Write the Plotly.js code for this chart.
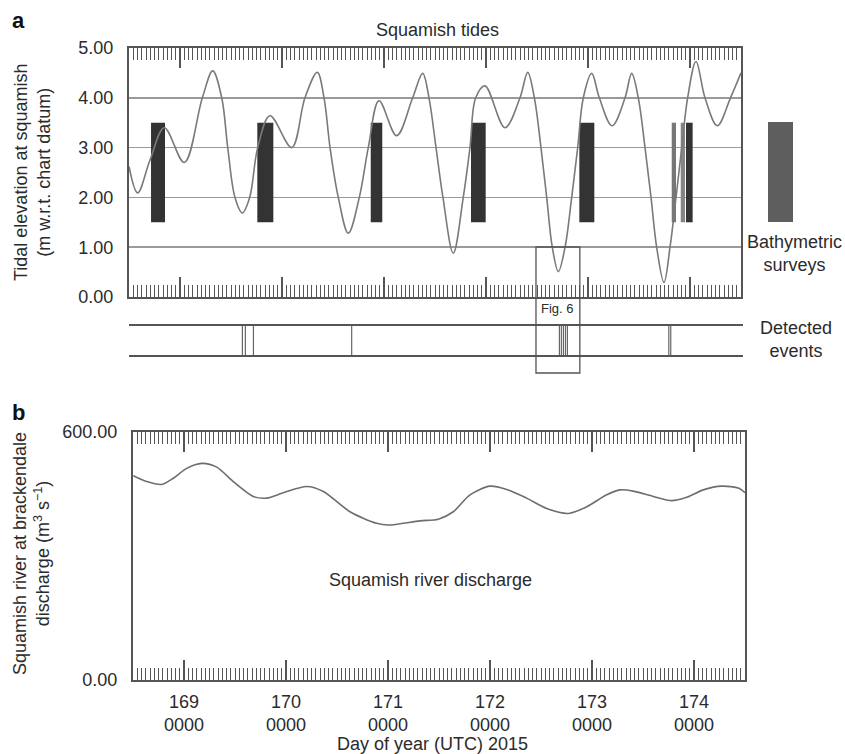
<!DOCTYPE html>
<html>
<head>
<meta charset="utf-8">
<script src="https://cdn.plot.ly/plotly-3.0.1.min.js"></script>
<style>html,body{margin:0;padding:0;background:#fff;}#chart{width:845px;height:754px;}</style>
</head>
<body>
<div id="chart"></div>
<script>
// ---- Data ----
const tideDay = [168.5, 168.585, 168.706, 168.846, 169.042, 169.219, 169.321, 169.409, 169.468, 169.539, 169.611, 169.683, 169.762, 169.882, 170.095, 170.225, 170.346, 170.412, 170.471, 170.552, 170.65, 170.758, 170.846, 170.951, 171.124, 171.281, 171.379, 171.441, 171.51, 171.578, 171.679, 171.777, 171.843, 171.899, 171.99, 172.186, 172.333, 172.409, 172.474, 172.539, 172.595, 172.65, 172.709, 172.775, 172.84, 172.899, 172.954, 173.036, 173.111, 173.236, 173.363, 173.428, 173.493, 173.559, 173.618, 173.673, 173.745, 173.804, 173.863, 173.919, 173.977, 174.059, 174.147, 174.268, 174.397, 174.5];
const tideLevel = [2.62, 2.09, 2.75, 3.40, 2.70, 4.00, 4.54, 4.00, 3.00, 2.00, 1.69, 2.00, 3.00, 3.64, 3.00, 4.00, 4.51, 4.00, 3.00, 2.00, 1.28, 2.00, 3.00, 3.94, 3.24, 4.00, 4.49, 4.00, 3.00, 2.00, 0.88, 2.00, 3.00, 4.00, 4.24, 3.40, 4.00, 4.51, 4.00, 3.00, 2.00, 1.00, 0.51, 1.00, 2.00, 3.00, 4.00, 4.49, 4.00, 3.44, 4.00, 4.49, 4.00, 3.00, 2.00, 1.00, 0.29, 1.00, 2.00, 3.00, 4.00, 4.73, 4.00, 3.44, 4.00, 4.50];

const dischargeDay = [168.503, 168.634, 168.781, 168.895, 169.026, 169.174, 169.321, 169.483, 169.679, 169.811, 169.974, 170.203, 170.366, 170.627, 170.889, 171.003, 171.314, 171.493, 171.64, 171.804, 172.0, 172.164, 172.36, 172.556, 172.768, 172.948, 173.144, 173.275, 173.405, 173.601, 173.781, 173.929, 174.091, 174.272, 174.441, 174.5];
const dischargeValue = [494, 480, 473, 488, 512, 524, 515, 480, 444, 440, 453, 468, 456, 407, 379, 375, 385, 389, 407, 448, 469, 461, 440, 415, 403, 419, 448, 460, 457, 444, 434, 442, 460, 469, 464, 453];

const surveyStart = [168.716, 169.758, 170.870, 171.853, 172.915, 173.821, 173.909, 173.961];
const surveyEnd   = [168.853, 169.915, 170.983, 171.997, 173.062, 173.863, 173.951, 174.026];
const surveyLow  = [1.5, 1.5, 1.5, 1.5, 1.5, 1.5, 1.5, 1.5];
const surveyHigh = [3.5, 3.5, 3.5, 3.5, 3.5, 3.5, 3.5, 3.5];
const surveyColor = ['#333333', '#333333', '#333333', '#333333', '#333333', '#777777', '#858585', '#333333'];

const eventDays = [169.608, 169.637, 169.716, 170.676, 172.706, 172.725, 172.745, 172.765, 172.784, 173.775, 173.794];

const dayTicks = [169, 170, 171, 172, 173, 174];
const dayTickLabels = ['169<br>0000', '170<br>0000', '171<br>0000', '172<br>0000', '173<br>0000', '174<br>0000'];
const tideTicks = [0, 1, 2, 3, 4, 5];
const tideTickLabels = ['0.00', '1.00', '2.00', '3.00', '4.00', '5.00'];
const dischargeTicks = [0, 600];
const dischargeTickLabels = ['0.00', '600.00'];
const fig6Days = [172.49, 172.92];

// ---- Build ----
const W = 845, H = 754;
const px = v => v / W;
const py = v => 1 - v / H;
const FONT = 'Liberation Sans, Arial, Helvetica, sans-serif';
const TXT = '#2b2b2b';
const AX = '#555555';

const evX = [], evY = [];
eventDays.forEach(d => { evX.push(d, d, null); evY.push(0, 1, null); });

const traces = [
  {
    type: 'bar', xaxis: 'x', yaxis: 'y',
    x: surveyStart.map((s, i) => (s + surveyEnd[i]) / 2),
    width: surveyStart.map((s, i) => surveyEnd[i] - s),
    base: surveyLow,
    y: surveyHigh.map((h, i) => h - surveyLow[i]),
    marker: { color: surveyColor, line: { width: 0 } },
    hoverinfo: 'skip'
  },
  {
    type: 'scatter', mode: 'lines', xaxis: 'x', yaxis: 'y',
    x: tideDay, y: tideLevel,
    line: { color: '#7a7a7a', width: 1.6, shape: 'spline', smoothing: 1 },
    hoverinfo: 'skip'
  },
  {
    type: 'scatter', mode: 'lines', xaxis: 'x3', yaxis: 'y3',
    x: evX, y: evY,
    line: { color: '#666666', width: 1.2 },
    hoverinfo: 'skip'
  },
  {
    type: 'scatter', mode: 'lines', xaxis: 'x2', yaxis: 'y2',
    x: dischargeDay, y: dischargeValue,
    line: { color: '#6e6e6e', width: 1.6, shape: 'spline', smoothing: 0.8 },
    hoverinfo: 'skip'
  }
];

const minorTicks = { dtick: 1 / 24, tick0: 169, ticks: 'inside', ticklen: 12, tickwidth: 1, tickcolor: AX, showgrid: false };

function note(text, x, y, size, extra) {
  return Object.assign({ text: text, xref: 'paper', yref: 'paper', x: x, y: y,
    xanchor: 'center', yanchor: 'middle', showarrow: false, font: { size: size, color: TXT } }, extra || {});
}

const layout = {
  width: W, height: H,
  margin: { l: 0, r: 0, t: 0, b: 0 },
  paper_bgcolor: '#ffffff', plot_bgcolor: '#ffffff',
  showlegend: false,
  barmode: 'overlay',
  font: { family: FONT, size: 18, color: TXT },
  xaxis: {
    domain: [px(129), px(741)], anchor: 'y',
    range: [168.5, 174.5], showticklabels: false,
    ticks: 'inside', ticklen: 20, tickwidth: 1.2, tickcolor: AX,
    tickvals: dayTicks,
    minor: minorTicks,
    showline: true, linecolor: AX, linewidth: 2, mirror: 'ticks',
    showgrid: false, zeroline: false
  },
  yaxis: {
    domain: [py(297), py(48)], anchor: 'x',
    range: [0, 5], tickvals: tideTicks, ticktext: tideTickLabels,
    ticks: '', ticklabelstandoff: 10,
    showline: true, linecolor: AX, linewidth: 2, mirror: true,
    showgrid: true, gridcolor: '#9a9a9a', gridwidth: 1.5, zeroline: false,
    tickfont: { size: 18, color: TXT }
  },
  xaxis3: {
    domain: [px(129), px(743)], anchor: 'y3',
    range: [168.5, 174.5], showticklabels: false, ticks: '',
    showline: true, linecolor: AX, linewidth: 2, mirror: true,
    showgrid: false, zeroline: false
  },
  yaxis3: {
    domain: [py(355), py(326)], anchor: 'x3',
    range: [0, 1], visible: false, showgrid: false, zeroline: false
  },
  xaxis2: {
    domain: [px(133), px(745)], anchor: 'y2',
    range: [168.5, 174.5],
    tickvals: dayTicks, ticktext: dayTickLabels,
    ticks: 'inside', ticklen: 20, tickwidth: 1.2, tickcolor: AX,
    minor: minorTicks, ticklabelstandoff: 4,
    showline: true, linecolor: AX, linewidth: 2, mirror: 'ticks',
    showgrid: false, zeroline: false,
    tickfont: { size: 18, color: TXT }
  },
  yaxis2: {
    domain: [py(680), py(432)], anchor: 'x2',
    range: [0, 600], tickvals: dischargeTicks, ticktext: dischargeTickLabels,
    ticks: '', ticklabelstandoff: 10,
    showline: true, linecolor: AX, linewidth: 2, mirror: true,
    showgrid: false, zeroline: false,
    tickfont: { size: 18, color: TXT }
  },
  shapes: [
    { type: 'rect', xref: 'x', yref: 'paper', x0: fig6Days[0], x1: fig6Days[1], y0: py(373), y1: py(247),
      line: { color: '#555555', width: 1.3 }, fillcolor: 'rgba(0,0,0,0)', layer: 'above' },
    { type: 'rect', xref: 'paper', yref: 'paper', x0: px(768), x1: px(793), y0: py(222), y1: py(122),
      line: { width: 0 }, fillcolor: '#5e5e5e' }
  ],
  annotations: [
    note('<b>a</b>', px(18), py(20), 22, { font: { size: 22, color: '#111' } }),
    note('Squamish tides', px(438), py(30), 18),
    note('Tidal elevation at squamish<br>(m w.r.t. chart datum)', px(32), py(173), 18, { textangle: -90 }),
    note('Bathymetric<br>surveys', px(794), py(253), 18),
    note('Detected<br>events', px(796), py(340), 18),
    note('Fig. 6', (fig6Days[0] + fig6Days[1]) / 2, py(309), 13, { xref: 'x' }),
    note('<b>b</b>', px(18), py(412), 22, { font: { size: 22, color: '#111' } }),
    note('Squamish river at brackendale<br>discharge (m<sup>3</sup> s<sup>\u22121</sup>)', px(31), py(554), 18, { textangle: -90 }),
    note('Squamish river discharge', px(430), py(580), 18),
    note('Day of year (UTC) 2015', px(432), py(744), 18)
  ]
};

Plotly.newPlot('chart', traces, layout, { staticPlot: true, displayModeBar: false });
</script>
</body>
</html>
